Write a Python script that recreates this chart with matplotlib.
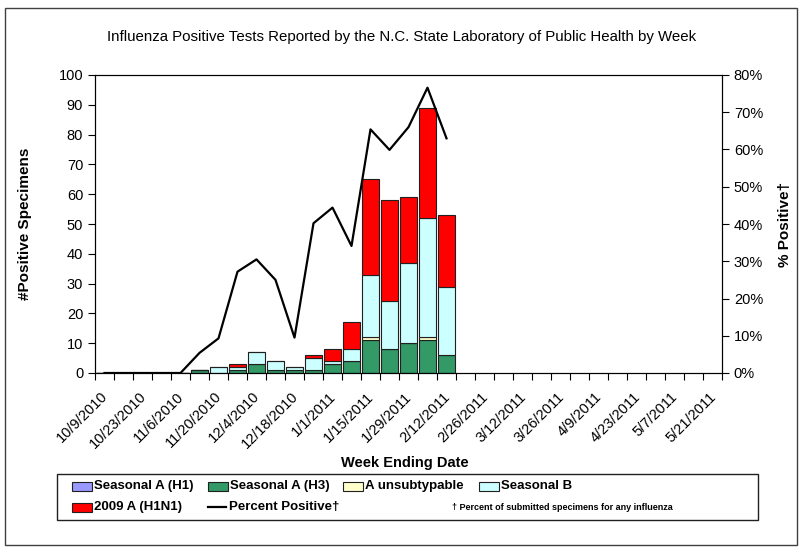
import matplotlib
matplotlib.use("Agg")
import matplotlib.pyplot as plt
import matplotlib.patches as mpatches
from matplotlib.lines import Line2D
import numpy as np

plt.rcParams["font.family"] = ["Liberation Sans", "DejaVu Sans"]

# week ending dates, 10/9/2010 .. 5/21/2011
weeks = ["10/9/2010", "10/16/2010", "10/23/2010", "10/30/2010", "11/6/2010",
         "11/13/2010", "11/20/2010", "11/27/2010", "12/4/2010", "12/11/2010",
         "12/18/2010", "12/25/2010", "1/1/2011", "1/8/2011", "1/15/2011",
         "1/22/2011", "1/29/2011", "2/5/2011", "2/12/2011", "2/19/2011",
         "2/26/2011", "3/5/2011", "3/12/2011", "3/19/2011", "3/26/2011",
         "4/2/2011", "4/9/2011", "4/16/2011", "4/23/2011", "4/30/2011",
         "5/7/2011", "5/14/2011", "5/21/2011"]

# reported weeks only (first 19), the rest are empty
seasonal_h1 = [0] * 19
seasonal_h3 = [0, 0, 0, 0, 0, 1, 0, 1, 3, 1, 1, 1, 3, 4, 11, 8, 10, 11, 6]
unsubtypable = [0, 0, 0, 0, 0, 0, 0, 0, 0, 0, 0, 0, 0, 0, 1, 0, 0, 1, 0]
seasonal_b = [0, 0, 0, 0, 0, 0, 2, 1, 4, 3, 1, 4, 1, 4, 21, 16, 27, 40, 23]
h1n1_2009 = [0, 0, 0, 0, 0, 0, 0, 1, 0, 0, 0, 1, 4, 9, 32, 34, 22, 37, 24]
pct_positive = [0, 0, 0, 0, 0, 5.4, 9.3, 27.2, 30.5, 25.0, 9.5, 40.2, 44.4,
                34.1, 65.4, 59.9, 66.0, 76.6, 63.0]

series = [
    ("Seasonal A (H1)", seasonal_h1, "#9999FF"),
    ("Seasonal A (H3)", seasonal_h3, "#339966"),
    ("A unsubtypable", unsubtypable, "#FFFFCC"),
    ("Seasonal B", seasonal_b, "#CCFFFF"),
    ("2009 A (H1N1)", h1n1_2009, "#FF0000"),
]

W, H = 803, 552
fig = plt.figure(figsize=(W / 100, H / 100), dpi=100)
ax = fig.add_axes([95 / W, 1 - 373 / H, (722 - 95) / W, (373 - 75) / H])

x = np.arange(len(seasonal_h3))
bottom = np.zeros(len(x))
for name, vals, col in series:
    vals = np.array(vals, dtype=float)
    ax.bar(x, vals, 0.88, bottom=bottom, color=col, edgecolor="#202020",
           linewidth=0.8, zorder=2)
    bottom += vals

ax.set_xlim(-0.5, len(weeks) - 0.5)
ax.set_ylim(0, 100)
ax.set_yticks(range(0, 101, 10))
ax.set_xticks(np.arange(-0.5, len(weeks), 1.0))
ax.set_xticklabels([])
ax.tick_params(axis="x", length=5, direction="out", width=0.8)
ax.tick_params(axis="y", length=5, direction="out", width=0.8, labelsize=10.5)
for i in range(0, len(weeks), 2):
    ax.text(i - 0.2, -5.5, weeks[i], rotation=45, rotation_mode="anchor",
            ha="right", va="top", fontsize=10.5,
            transform=ax.transData, clip_on=False)
ax.set_ylabel("#Positive Specimens", fontsize=11, fontweight="bold", labelpad=19)

ax2 = ax.twinx()
ax2.plot(np.arange(len(pct_positive)), np.array(pct_positive) / 100,
         color="black", linewidth=1.6, zorder=3)
ax2.set_ylim(0, 0.8)
ax2.set_yticks(np.arange(0, 0.81, 0.1))
ax2.set_yticklabels([f"{int(round(v * 100))}%" for v in np.arange(0, 0.81, 0.1)])
ax2.tick_params(axis="y", length=5, direction="out", width=0.8, labelsize=10.5)
ax2.set_ylabel("% Positive†", fontsize=11, fontweight="bold", labelpad=11)
for a in (ax, ax2):
    for s in a.spines.values():
        s.set_linewidth(0.8)

fig.text(402 / W, 1 - 37 / H,
         "Influenza Positive Tests Reported by the N.C. State Laboratory of Public Health by Week",
         ha="center", va="center", fontsize=10.8)
fig.text(405 / W, 1 - 463 / H, "Week Ending Date", ha="center", va="center",
         fontsize=10.5, fontweight="bold")

# chart border and legend box
fig.patches.append(mpatches.Rectangle((5 / W, 1 - 545 / H), 792 / W, 537 / H,
                                      transform=fig.transFigure, fill=False,
                                      edgecolor="#404040", linewidth=1))
fig.patches.append(mpatches.Rectangle((57 / W, 1 - 520 / H), 701 / W, 46 / H,
                                      transform=fig.transFigure, fill=False,
                                      edgecolor="#202020", linewidth=1))

legend_pos = [(72, 486), (208, 486), (343, 486), (479, 486), (72, 507)]
for (name, vals, col), (px, py) in zip(series, legend_pos):
    fig.patches.append(mpatches.Rectangle((px / W, 1 - (py + 4.5) / H), 20 / W, 9 / H,
                                          transform=fig.transFigure, facecolor=col,
                                          edgecolor="#202020", linewidth=0.8))
    fig.text((px + 22) / W, 1 - py / H, name, ha="left", va="center",
             fontsize=9.5, fontweight="bold")
fig.lines.append(Line2D([208 / W, 226 / W], [1 - 507 / H, 1 - 507 / H],
                        transform=fig.transFigure, color="black", linewidth=1.6))
fig.text(229 / W, 1 - 507 / H, "Percent Positive†", ha="left", va="center",
         fontsize=9.5, fontweight="bold")
fig.text(452 / W, 1 - 507 / H, "† Percent of submitted specimens for any influenza",
         ha="left", va="center", fontsize=6.5, fontweight="bold")

fig.savefig("out.png", dpi=100)
